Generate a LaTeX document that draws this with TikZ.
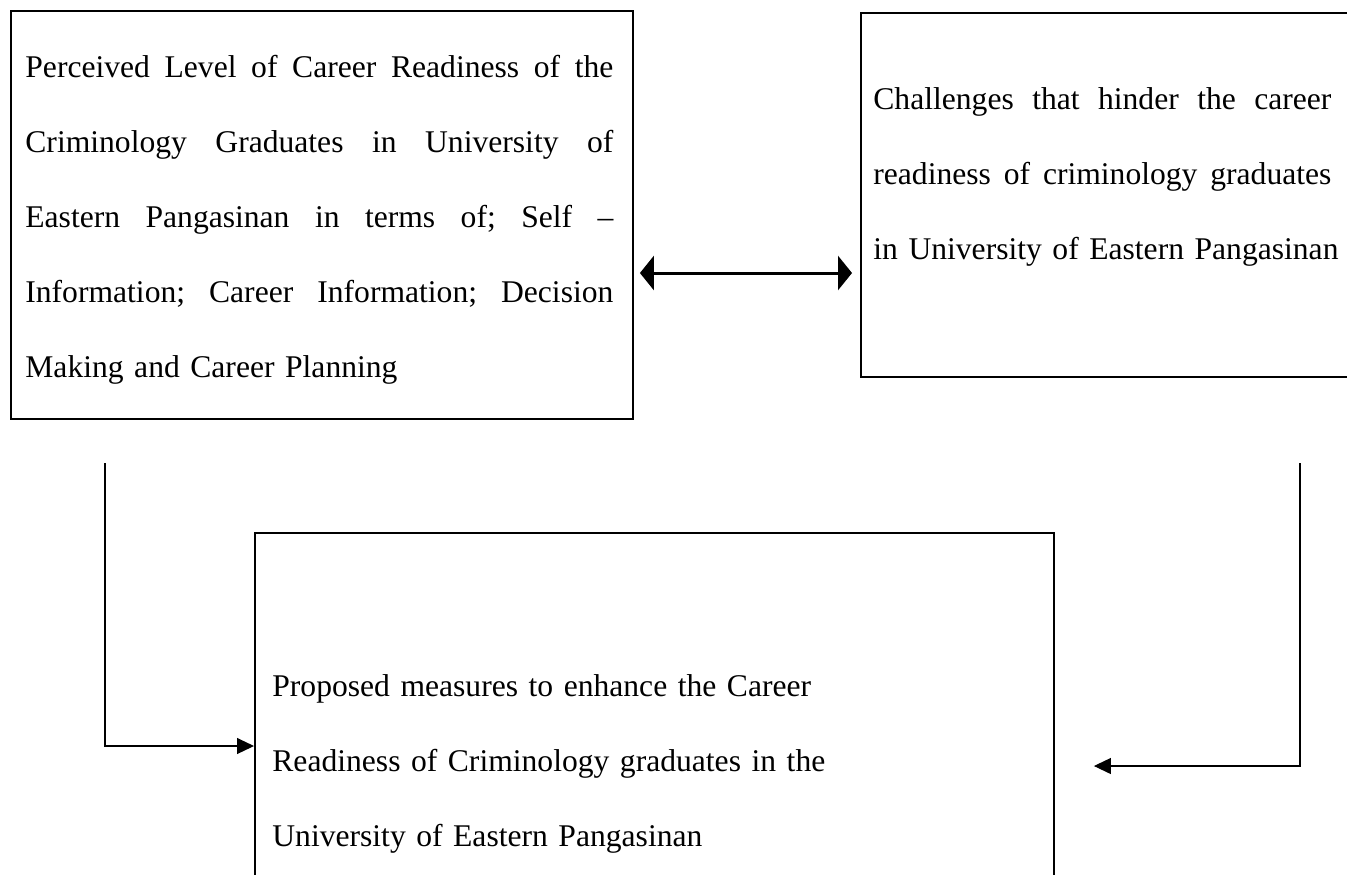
\documentclass[tikz,border=0pt]{standalone}
\usepackage{fontspec}
\setmainfont{Liberation Serif}
\usepackage{tikz}
\usetikzlibrary{positioning}
\usetikzlibrary{arrows.meta}
\pgfdeclarelayer{nodelayer}
\pgfdeclarelayer{edgelayer}
\pgfsetlayers{nodelayer,edgelayer,main}
\newcommand{\jline}[2]{\leavevmode{\frenchspacing\spaceskip=0.25em plus 1fil\relax\hbox to #1{\strut #2}}}

\begin{document}
\begin{tikzpicture}[x=0.5pt, y=-0.5pt,
    box/.style={draw, line width=0.95pt, inner sep=0pt, anchor=north west},
    txt/.style={inner sep=0pt, anchor=north west, font=\fontsize{15.8}{37.5}\selectfont},
    link/.style={line width=0.55pt, -{Triangle[length=8.5pt, width=8pt]}},
    both/.style={line width=1.5pt, {Triangle[length=7pt, width=17pt]}-{Triangle[length=7pt, width=17pt]}}]
  \useasboundingbox (0, 0) rectangle (1347, 874);
  \begin{pgfonlayer}{nodelayer}
    \begin{scope}
      \clip (0, 0) rectangle (1347, 874);
      \node [box, minimum width=311pt, minimum height=204pt] (0) at (10, 10) {};
      \node [box, minimum width=246pt, minimum height=182pt] (1) at (860, 12) {};
      \node [box, minimum width=399.5pt, minimum height=174pt] (2) at (254, 532) {};
    \end{scope}
    \node [txt, text width=294pt] (3) at (25, 24.5) {%
      \jline{294pt}{Perceived Level of Career Readiness of the}\\
      \jline{294pt}{Criminology Graduates in University of}\\
      \jline{294pt}{Eastern Pangasinan in terms of; Self –}\\
      \jline{294pt}{Information; Career Information; Decision}\\
      \strut Making and Career Planning};
    \node [txt, text width=240pt] (4) at (873, 56.5) {%
      \jline{229pt}{Challenges that hinder the career}\\
      \jline{229pt}{readiness of criminology graduates}\\
      \strut in University of Eastern Pangasinan};
    \node [txt, text width=380pt] (5) at (272, 643.5) {%
      \strut Proposed measures to enhance the Career\\
      \strut Readiness of Criminology graduates in the\\
      \strut University of Eastern Pangasinan};
  \end{pgfonlayer}
  \begin{pgfonlayer}{edgelayer}
    \coordinate (6) at (105, 463);
    \coordinate (7) at (1300, 463);
    \coordinate (8) at (0, 273);
    \coordinate (9) at (0, 746);
    \coordinate (10) at (0, 766);
    \draw [both] ([xshift=3pt]0.east |- 8) -- ([xshift=-4pt]1.west |- 8);
    \draw [link] (6) |- (2.west |- 9);
    \draw [link] (7) |- ([xshift=19.5pt]2.east |- 10);
  \end{pgfonlayer}
\end{tikzpicture}
\end{document}
